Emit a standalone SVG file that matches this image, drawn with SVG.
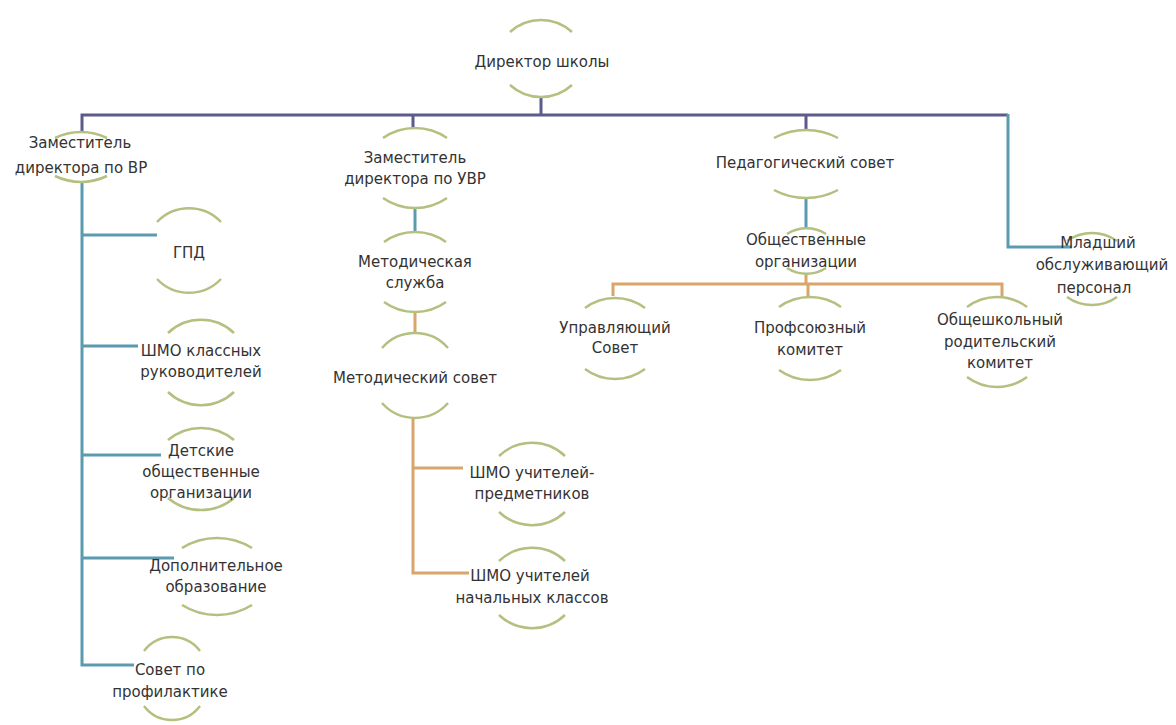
<svg xmlns="http://www.w3.org/2000/svg" width="1176" height="725" viewBox="0 0 1176 725">
<style>
.arc{fill:none;stroke:#b3c07f;stroke-width:2.5}
.t{font-family:"DejaVu Sans","Liberation Sans",sans-serif;font-size:15px;fill:#333;text-anchor:middle}
.pu{fill:none;stroke:#5d5a8c;stroke-width:3}
.bl{fill:none;stroke:#5b9bb0;stroke-width:3}
.or{fill:none;stroke:#d9a56a;stroke-width:3}
</style>
<rect width="1176" height="725" fill="#fff"/>
<g id="connectors">
<path class="pu" d="M541,97 V115 M82,132 V115 H1008 M413,115 V128 M806,115 V130"/>
<path class="bl" d="M1008,114 V247 H1072"/>
<path class="bl" d="M82,182 V665 H134 M82,235 H157 M82,346 H138 M82,455 H161 M82,558 H174"/>
<path class="bl" d="M415,208 V232 M806,198 V228"/>
<path class="or" d="M415,312 V333 M413,417 V573 H469 M413,468 H463"/>
<path class="or" d="M806,273 V284 M613,296 V284 H1002 V296 M808,284 V297"/>
</g>
<g id="n-director">
<path class="arc" d="M510,32 A46 46 0 0 1 572,32 M510,85 A46 46 0 0 0 572,85"/>
<text class="t" x="542" y="67">Директор  школы</text>
</g>
<g id="n-vr">
<path class="arc" d="M55,138 A60 60 0 0 1 107,138 M55,176 A60 60 0 0 0 107,176"/>
<text class="t" x="80" y="148">Заместитель</text>
<text class="t" x="81" y="173">директора по ВР</text>
</g>
<g id="n-uvr">
<path class="arc" d="M383,138 A56 56 0 0 1 447,138 M383,198 A56 56 0 0 0 447,198"/>
<text class="t" x="415" y="163">Заместитель</text>
<text class="t" x="415" y="184">директора по УВР</text>
</g>
<g id="n-ped">
<path class="arc" d="M774,138 A68 68 0 0 1 838,138 M774,190 A68 68 0 0 0 838,190"/>
<text class="t" x="805" y="168">Педагогический совет</text>
</g>
<g id="n-mladshiy">
<path class="arc" d="M1067,241 A43 43 0 0 1 1117,241 M1067,297 A43 43 0 0 0 1117,297"/>
<text class="t" x="1098" y="248">Младший</text>
<text class="t" x="1102" y="270">обслуживающий</text>
<text class="t" x="1094" y="293">персонал</text>
</g>
<g id="n-gpd">
<path class="arc" d="M157,222 A44 44 0 0 1 221,222 M157,279 A44 44 0 0 0 221,279"/>
<text class="t" x="189" y="258">ГПД</text>
</g>
<g id="n-shmo-kl">
<path class="arc" d="M168,333 A48 48 0 0 1 234,333 M168,392 A48 48 0 0 0 234,392"/>
<text class="t" x="201" y="356">ШМО классных</text>
<text class="t" x="201" y="377">руководителей</text>
</g>
<g id="n-detskie">
<path class="arc" d="M168,440 A51 51 0 0 1 234,440 M168,498 A51 51 0 0 0 234,498"/>
<text class="t" x="201" y="456">Детские</text>
<text class="t" x="201" y="477">общественные</text>
<text class="t" x="201" y="498">организации</text>
</g>
<g id="n-dop">
<path class="arc" d="M182,548 A66 66 0 0 1 252,548 M182,605 A66 66 0 0 0 252,605"/>
<text class="t" x="216" y="571">Дополнительное</text>
<text class="t" x="216" y="592">образование</text>
</g>
<g id="n-profil">
<path class="arc" d="M144,651 A35 35 0 0 1 200,651 M144,706 A35 35 0 0 0 200,706"/>
<text class="t" x="170" y="675">Совет по</text>
<text class="t" x="170" y="697">профилактике</text>
</g>
<g id="n-metsl">
<path class="arc" d="M384,242 A53 53 0 0 1 446,242 M384,302 A53 53 0 0 0 446,302"/>
<text class="t" x="415" y="267">Методическая</text>
<text class="t" x="415" y="288">служба</text>
</g>
<g id="n-metsov">
<path class="arc" d="M382,348 A44 44 0 0 1 448,348 M382,403 A44 44 0 0 0 448,403"/>
<text class="t" x="415" y="383">Методический совет</text>
</g>
<g id="n-shmo-pred">
<path class="arc" d="M499,456 A48 48 0 0 1 565,456 M499,512 A48 48 0 0 0 565,512"/>
<text class="t" x="532" y="478">ШМО учителей-</text>
<text class="t" x="532" y="499">предметников</text>
</g>
<g id="n-shmo-nach">
<path class="arc" d="M499,561 A48 48 0 0 1 565,561 M499,615 A48 48 0 0 0 565,615"/>
<text class="t" x="530" y="581">ШМО учителей</text>
<text class="t" x="532" y="603">начальных классов</text>
</g>
<g id="n-obsh-org">
<path class="arc" d="M787,234 A36 36 0 0 1 826,234 M787,268 A36 36 0 0 0 826,268"/>
<text class="t" x="806" y="245">Общественные</text>
<text class="t" x="806" y="267">организации</text>
</g>
<g id="n-upr">
<path class="arc" d="M585,308 A50 50 0 0 1 645,308 M585,369 A50 50 0 0 0 645,369"/>
<text class="t" x="615" y="333">Управляющий</text>
<text class="t" x="615" y="353">Совет</text>
</g>
<g id="n-prof">
<path class="arc" d="M779,307 A53 53 0 0 1 841,307 M779,370 A53 53 0 0 0 841,370"/>
<text class="t" x="810" y="333">Профсоюзный</text>
<text class="t" x="810" y="355">комитет</text>
</g>
<g id="n-roditel">
<path class="arc" d="M967,307 A50 50 0 0 1 1027,307 M967,377 A50 50 0 0 0 1027,377"/>
<text class="t" x="1000" y="325">Общешкольный</text>
<text class="t" x="1000" y="347">родительский</text>
<text class="t" x="1000" y="368">комитет</text>
</g>
</svg>
